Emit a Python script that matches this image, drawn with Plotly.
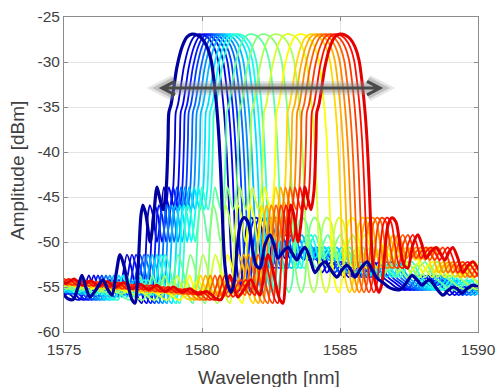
import plotly.graph_objects as go

# Reference (first, dark-blue) spectrum: wavelength [nm], amplitude [dBm]
ref_wavelength_nm = [
    1569.4, 1569.7, 1570.0, 1570.3, 1570.6, 1570.9, 1571.2, 1571.5, 1571.8, 1572.1,
    1572.4, 1572.7, 1573.0, 1573.3, 1573.6, 1573.9, 1574.2, 1574.5, 1574.8,
    1575.00, 1575.14, 1575.33, 1575.51, 1575.65, 1575.80, 1575.94, 1576.16, 1576.41, 1576.59,
    1576.74, 1576.88, 1577.03, 1577.17, 1577.32, 1577.46, 1577.57, 1577.68, 1577.79, 1577.86,
    1577.97, 1578.12, 1578.22, 1578.37, 1578.48, 1578.59, 1578.70, 1578.77, 1578.80, 1578.88,
    1578.99, 1579.09, 1579.28, 1579.46, 1579.64, 1579.82, 1580.00, 1580.18, 1580.33, 1580.43,
    1580.54, 1580.62, 1580.69, 1580.76, 1580.83, 1580.94, 1581.05, 1581.16, 1581.27, 1581.38,
    1581.52, 1581.67, 1581.81, 1581.96, 1582.10, 1582.28, 1582.46, 1582.61, 1582.75, 1582.93,
    1583.12, 1583.26, 1583.44, 1583.59, 1583.73, 1583.91, 1584.09, 1584.28, 1584.46, 1584.67,
    1584.89, 1585.07, 1585.25, 1585.40, 1585.54, 1585.76, 1585.98, 1586.16, 1586.34, 1586.55,
    1586.81, 1587.17, 1587.39, 1587.61, 1587.79, 1587.97, 1588.12, 1588.26, 1588.48, 1588.73,
    1588.91, 1589.09, 1589.28, 1589.42, 1589.60, 1589.82, 1590.00,
]
ref_amplitude_dbm = [
    -54.0, -54.6, -54.1, -54.8, -54.3, -54.9, -54.4, -55.0, -54.5, -55.2,
    -54.7, -55.3, -54.8, -55.5, -55.0, -55.6, -55.2, -55.8, -55.5,
    -55.9, -56.3, -56.4, -55.0, -53.7, -55.1, -56.1, -55.3, -54.2, -55.3,
    -55.9, -53.7, -51.4, -52.6, -54.8, -56.4, -56.8, -53.1, -47.0, -45.9,
    -47.0, -50.0, -48.1, -43.9, -45.3, -46.4, -44.2, -38.7, -35.6, -34.7,
    -32.6, -30.6, -28.3, -27.2, -26.9, -27.0, -27.4, -28.3, -29.8, -32.0,
    -35.3, -38.7, -43.1, -48.7, -52.6, -54.8, -55.6, -54.6, -50.9, -48.1,
    -47.3, -47.8, -50.3, -52.6, -52.9, -50.3, -49.2, -50.3, -51.8, -51.1,
    -50.6, -51.2, -52.0, -51.1, -50.6, -51.8, -53.4, -52.6, -52.2, -53.1,
    -53.9, -53.1, -52.6, -53.1, -53.9, -52.9, -52.2, -53.1, -54.0, -54.5,
    -55.1, -55.3, -54.6, -53.7, -54.2, -54.8, -54.4, -54.2, -55.1, -55.9,
    -55.4, -55.0, -55.3, -55.7, -55.2, -54.8, -55.0,
]

# Peak wavelength of each measured spectrum (blue -> red)
peak_wavelength_nm = [
    1579.60, 1579.85, 1580.03, 1580.18, 1580.32, 1580.47, 1580.61, 1580.76, 1580.94, 1581.09, 1581.23,
    1581.70, 1582.15, 1582.60, 1583.05, 1583.50,
    1583.90, 1584.08, 1584.25, 1584.42, 1584.60, 1584.78, 1584.96,
]

x_ticks = [1575, 1580, 1585, 1590]
y_ticks = [-60, -55, -50, -45, -40, -35, -30, -25]

# tuning-range arrow
arrow_left_nm, arrow_right_nm, arrow_level_dbm = 1578.55, 1586.45, -32.9


def jet(v):
    r = min(max(1.5 - abs(4 * v - 3), 0), 1)
    g = min(max(1.5 - abs(4 * v - 2), 0), 1)
    b = min(max(1.5 - abs(4 * v - 1), 0), 1)
    return f"rgb({int(r*255)},{int(g*255)},{int(b*255)})"


n = len(peak_wavelength_nm)
colors = [jet(0.03 + 0.87 * i / (n - 1)) for i in range(n)]
p0 = peak_wavelength_nm[0]


def trace(i, width):
    shift = peak_wavelength_nm[i] - p0
    return go.Scatter(
        x=[w + shift for w in ref_wavelength_nm],
        y=ref_amplitude_dbm,
        mode="lines",
        line=dict(color=colors[i], width=width, shape="spline", smoothing=0.8),
        hoverinfo="skip",
        showlegend=False,
    )


fig = go.Figure()
for i in range(1, n - 1):
    fig.add_trace(trace(i, 1.8))
fig.add_trace(trace(n - 1, 3.0))
fig.add_trace(trace(0, 3.2))

dx, dy = 0.47, 0.75
arrow_path = (
    f"M {arrow_left_nm + dx},{arrow_level_dbm + dy} L {arrow_left_nm},{arrow_level_dbm} "
    f"L {arrow_left_nm + dx},{arrow_level_dbm - dy} "
    f"M {arrow_left_nm},{arrow_level_dbm} L {arrow_right_nm},{arrow_level_dbm} "
    f"M {arrow_right_nm - dx},{arrow_level_dbm + dy} L {arrow_right_nm},{arrow_level_dbm} "
    f"L {arrow_right_nm - dx},{arrow_level_dbm - dy}"
)
shapes = []
for w, c in [(14, "rgba(150,150,150,0.25)"), (9, "rgba(120,120,120,0.35)")]:
    shapes.append(dict(type="path", path=arrow_path, xref="x", yref="y",
                       line=dict(color=c, width=w), layer="above"))
shapes.append(dict(type="path", path=arrow_path, xref="x", yref="y",
                   line=dict(color="#4a4a4a", width=3), layer="above"))

font_family = "Liberation Sans, Arial"
axis_common = dict(
    showline=True, linecolor="#8c8c8c", linewidth=1, mirror="ticks",
    ticks="inside", ticklen=4, tickcolor="#8c8c8c",
    showgrid=True, gridcolor="#e3e3e3", gridwidth=1, zeroline=False,
    automargin=False,
    tickfont=dict(family=font_family, size=15.5, color="#404040"),
)

fig.update_layout(
    width=496, height=387,
    margin=dict(l=64, r=18, t=17, b=55),
    paper_bgcolor="white", plot_bgcolor="white",
    shapes=shapes,
    xaxis=dict(range=[1575, 1590], tickvals=x_ticks, ticktext=[str(t) for t in x_ticks],
               ticklabelstandoff=3, **axis_common),
    yaxis=dict(range=[-60, -25], tickvals=y_ticks, ticktext=[str(t) for t in y_ticks],
               **axis_common),
    annotations=[
        dict(text="Wavelength [nm]", xref="paper", yref="paper", x=0.494, y=-0.143,
             xanchor="center", yanchor="middle", showarrow=False,
             font=dict(family=font_family, size=19, color="#404040")),
        dict(text="Amplitude [dBm]", xref="paper", yref="paper", x=-0.1135, y=0.511,
             xanchor="center", yanchor="middle", showarrow=False, textangle=-90,
             font=dict(family=font_family, size=19, color="#404040")),
    ],
)

fig.write_html("out.html",
               config={"displayModeBar": False},
               post_script="document.body.style.margin='0';document.body.style.overflow='hidden';")
